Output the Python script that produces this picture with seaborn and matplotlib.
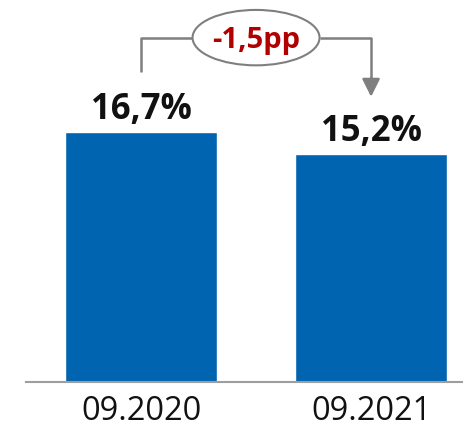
import numpy as np
import pandas as pd
import matplotlib
matplotlib.use('Agg')
import matplotlib.pyplot as plt
from matplotlib.patches import Ellipse
import seaborn as sns

# - data - #
periods = ['09.2020', '09.2021']
values = [16.7, 15.2]
value_labels = ['16,7%', '15,2%']
delta_label = '-1,5pp'

bar_color = '#0064B0'
gray = '#7F7F7F'
red = '#B00000'

sns.set_theme(style='white')
plt.rcParams['font.family'] = ['Open Sans', 'DejaVu Sans']

df = pd.DataFrame({'period': periods, 'value': values})

fig = plt.figure(figsize=(4.64, 4.27), dpi=100)
ax = fig.add_axes([26/464, 44/427, 438/464, 383/427])

sns.barplot(data=df, x='period', y='value', color=bar_color, width=0.66,
            saturation=1, ax=ax)

ax.set_xlim(-0.5, 1.404)
ax.set_ylim(0, 25.58)

# value labels above bars
for i, (v, lab) in enumerate(zip(values, value_labels)):
    ax.text(i, v + 0.95, lab, ha='center', va='baseline', fontsize=25,
            fontweight='bold', color='#111111')

# bracket with change bubble
y_top = 23.0
ax.plot([0, 0, 0.22], [20.7, y_top, y_top], color=gray, lw=1.8, solid_capstyle='butt')
ax.plot([0.78, 1, 1], [y_top, y_top, 20.1], color=gray, lw=1.8, solid_capstyle='butt')
ax.annotate('', xy=(1, 19.05), xytext=(1, 20.3),
            arrowprops=dict(arrowstyle='-|>,head_length=0.9,head_width=0.45',
                            color=gray, lw=1.8, shrinkA=0, shrinkB=0))
ax.add_patch(Ellipse((0.5, y_top), width=0.552, height=3.7, facecolor='white',
                     edgecolor=gray, lw=1.5, zorder=3))
ax.text(0.5, y_top - 0.1, delta_label, ha='center', va='center', fontsize=21,
        fontweight='bold', color=red, zorder=4)

# axes styling
sns.despine(ax=ax, left=True, top=True, right=True)
ax.spines['bottom'].set_color('#9E9E9E')
ax.spines['bottom'].set_linewidth(1.5)
ax.set_yticks([])
ax.set_xlabel('')
ax.set_ylabel('')
ax.tick_params(axis='x', length=0, labelsize=23.5, pad=9, colors='#111111')

fig.savefig('out.png', dpi=100)
